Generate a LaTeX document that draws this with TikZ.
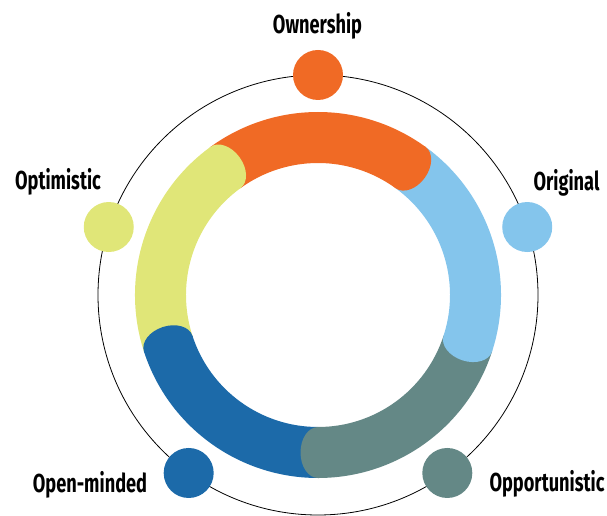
\documentclass[tikz,border=0pt]{standalone}
\usepackage{fontspec}
\newfontfamily\lblfont[FakeStretch=0.7]{Fira Sans Bold}
\definecolor{cOrange}{HTML}{F06A25}
\definecolor{cLBlue}{HTML}{84C5EC}
\definecolor{cGray}{HTML}{648886}
\definecolor{cDBlue}{HTML}{1C6AA9}
\definecolor{cYellow}{HTML}{E0E678}
\tikzset{
  lbl/.style={inner sep=0pt, anchor=base, font=\lblfont\fontsize{26}{26}\selectfont},
  dot/.style={circle, minimum size=50pt, inner sep=0pt},
}
\newcommand{\ringseg}[3]{% color, start angle, end angle
  \fill[#1] (#2:183pt) arc[start angle=#2, end angle=#3, radius=183pt]
    -- (#3:132pt) arc[start angle=#3, end angle=#2, radius=132pt] -- cycle;}
\newcommand{\ringcap}[2]{% color, angle
  \begin{scope}[rotate=#2]
  \fill[#1] (183pt,1.2pt) -- (183pt,0pt)
    arc[start angle=0, end angle=-180, x radius=25.5pt, y radius=17.5pt]
    -- (132pt,1.2pt) -- cycle;
  \end{scope}}
\begin{document}
\begin{tikzpicture}
\useasboundingbox (-318pt,-221pt) rectangle (289pt,295pt);
\coordinate (c) at (0,0);
\draw[line width=0.8pt] (c) circle[radius=220pt];
% ring segments
\ringseg{cOrange}{126}{54}
\ringseg{cLBlue}{54}{-18}
\ringseg{cGray}{-18}{-90}
\ringseg{cDBlue}{-90}{-162}
\ringseg{cYellow}{198}{126}
% rounded ends
\ringcap{cOrange}{54}
\ringcap{cLBlue}{-18}
\ringcap{cGray}{-90}
\ringcap{cDBlue}{-162}
\ringcap{cYellow}{126}
% dots
\node[dot, fill=cOrange] (d1) at (90:220pt) {};
\node[dot, fill=cLBlue] (d2) at (18:220pt) {};
\node[dot, fill=cGray] (d3) at (-54:220pt) {};
\node[dot, fill=cDBlue] (d4) at (-126:220pt) {};
\node[dot, fill=cYellow] (d5) at (162:220pt) {};
% labels
\node[lbl] (t1) at (-0.5pt,261pt) {Ownership};
\node[lbl] (t2) at (248.5pt,104pt) {Original};
\node[lbl] (t3) at (229pt,-196pt) {Opportunistic};
\node[lbl] (t4) at (-228pt,-197pt) {Open-minded};
\node[lbl] (t5) at (-260pt,105pt) {Optimistic};
\end{tikzpicture}
\end{document}
